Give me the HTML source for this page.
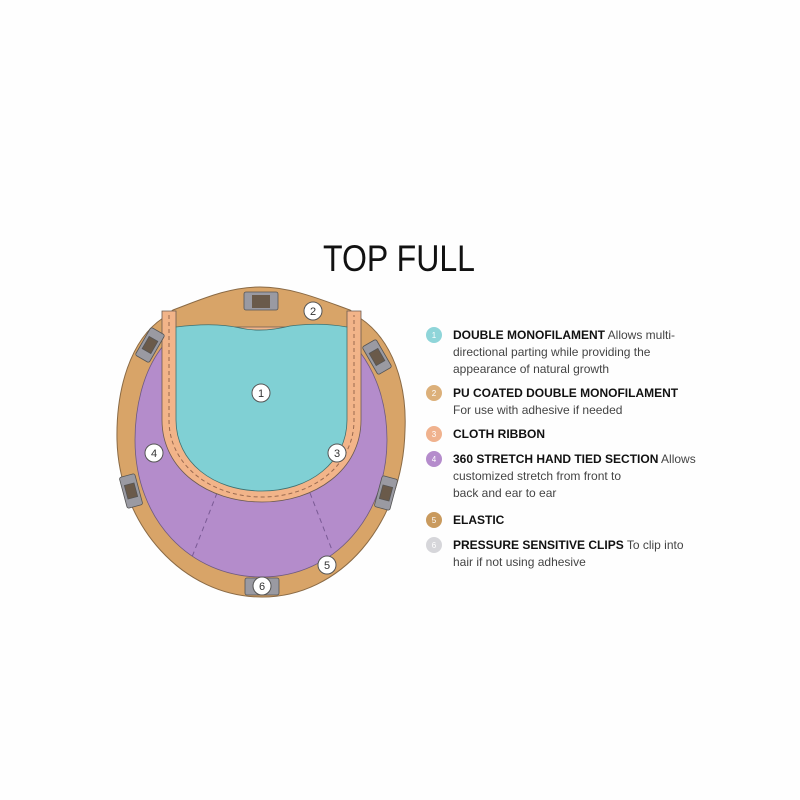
<!DOCTYPE html>
<html><head><meta charset="utf-8"><style>
html,body{margin:0;padding:0;background:#fff;}
svg{display:block;}
</style></head><body>
<svg width="800" height="800" viewBox="0 0 800 800" xmlns="http://www.w3.org/2000/svg" font-family="Liberation Sans, sans-serif">
<rect width="800" height="800" fill="#fefefe"/>
<text x="323" y="271" font-size="37" fill="#111" textLength="152" lengthAdjust="spacingAndGlyphs">TOP FULL</text>

<!-- outer elastic -->
<path d="M163,318 L173,310 C200,300 228,287 260,287 C292,287 322,300 350,310 L360,318 C393,340 407,385 405,430 C403,525 340,597 262,597 C183,597 119,525 117,440 C116,390 130,340 163,318 Z" fill="#d8a468" stroke="#8a6a45" stroke-width="1"/>
<!-- purple -->
<path d="M163,346 C142,372 135,410 135,440 C135,520 190,577 262,577 C335,577 387,515 387,440 C387,405 377,375 360,352 Z" fill="#b48ccb" stroke="#6e5a80" stroke-width="0.8"/>
<!-- dashed dividers -->
<path d="M217,493 L192,557" stroke="#7a5a95" stroke-width="1" stroke-dasharray="5,4" fill="none"/>
<path d="M310,493 L332,550" stroke="#7a5a95" stroke-width="1" stroke-dasharray="5,4" fill="none"/>
<!-- ribbon -->
<path d="M162,311 L176,311 L176,327 L347,327 L347,311 L361,311 L361,420 C361,470 315,502 262,502 C208,502 162,470 162,420 Z" fill="#f2b489" stroke="#6b5a50" stroke-width="0.8"/>
<path d="M169,315 L169,420 C169,466 212,497 262,497 C312,497 354,466 354,420 L354,315" fill="none" stroke="#9a6a50" stroke-width="1" stroke-dasharray="4,3"/>
<!-- cyan -->
<path d="M176,327 Q215,322 240,328 Q262,333 290,326 Q320,322 347,327 L347,420 C347,462 310,491 262,491 C213,491 176,462 176,420 Z" fill="#80d0d4" stroke="#3d7070" stroke-width="0.8"/>

<!-- clips -->
<g fill="#9a9aa2" stroke="#555" stroke-width="0.8">
<rect x="244" y="292" width="34" height="18" rx="2"/>
<g transform="rotate(-60 150 345)"><rect x="134" y="337" width="32" height="16" rx="2"/><rect x="143" y="340" width="14" height="10" fill="#6a5a4a"/></g>
<g transform="rotate(60 377 357)"><rect x="361" y="349" width="32" height="16" rx="2"/><rect x="370" y="352" width="14" height="10" fill="#6a5a4a"/></g>
<g transform="rotate(75 131 491)"><rect x="115" y="483" width="32" height="16" rx="2"/><rect x="124" y="486" width="14" height="10" fill="#6a5a4a"/></g>
<g transform="rotate(-75 386 493)"><rect x="370" y="485" width="32" height="16" rx="2"/><rect x="379" y="488" width="14" height="10" fill="#6a5a4a"/></g>
<rect x="245" y="578" width="34" height="17" rx="2"/>
</g>
<rect x="252" y="295" width="18" height="13" fill="#6a5a4a"/>

<!-- number circles -->
<g fill="#fff" stroke="#555" stroke-width="1">
<circle cx="261" cy="393" r="9"/><circle cx="313" cy="311" r="9"/><circle cx="337" cy="453" r="9"/>
<circle cx="154" cy="453" r="9"/><circle cx="327" cy="565" r="9"/><circle cx="262" cy="586" r="9"/>
</g>
<g font-size="11" fill="#333" text-anchor="middle">
<text x="261" y="397">1</text><text x="313" y="315">2</text><text x="337" y="457">3</text>
<text x="154" y="457">4</text><text x="327" y="569">5</text><text x="262" y="590">6</text>
</g>

<!-- legend -->
<g>
<circle cx="434" cy="335" r="8" fill="#8fd5d9"/>
<circle cx="434" cy="393" r="8" fill="#dcb07a"/>
<circle cx="434" cy="434" r="8" fill="#f0b28e"/>
<circle cx="434" cy="459" r="8" fill="#b58ccc"/>
<circle cx="434" cy="520" r="8" fill="#c99a5e"/>
<circle cx="434" cy="545" r="8" fill="#d6d6da"/>
</g>
<g font-size="8" fill="#fff" text-anchor="middle">
<text x="434" y="338">1</text><text x="434" y="396">2</text><text x="434" y="437">3</text><text x="434" y="462">4</text><text x="434" y="523">5</text><text x="434" y="548">6</text>
</g>
<g font-size="12" fill="#444">
<text x="453" y="339"><tspan font-weight="bold" fill="#111">DOUBLE MONOFILAMENT</tspan> Allows multi-</text>
<text x="453" y="356">directional parting while providing the</text>
<text x="453" y="373">appearance of natural growth</text>
<text x="453" y="397" font-weight="bold" fill="#111">PU COATED DOUBLE MONOFILAMENT</text>
<text x="453" y="414">For use with adhesive if needed</text>
<text x="453" y="438" font-weight="bold" fill="#111">CLOTH RIBBON</text>
<text x="453" y="463"><tspan font-weight="bold" fill="#111">360 STRETCH HAND TIED SECTION</tspan> Allows</text>
<text x="453" y="480">customized stretch from front to</text>
<text x="453" y="497">back and ear to ear</text>
<text x="453" y="524" font-weight="bold" fill="#111">ELASTIC</text>
<text x="453" y="549"><tspan font-weight="bold" fill="#111">PRESSURE SENSITIVE CLIPS</tspan> To clip into</text>
<text x="453" y="566">hair if not using adhesive</text>
</g>
</svg>
</body></html>
